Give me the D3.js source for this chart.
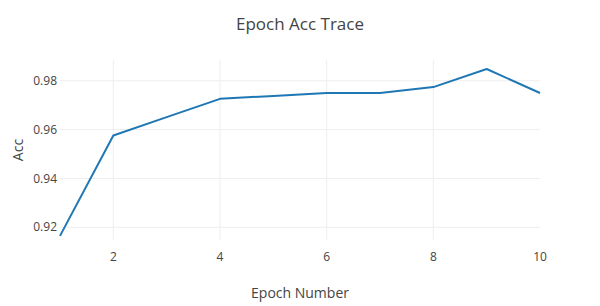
<!DOCTYPE html>
<html lang="en">
  <head>
    <meta charset="utf-8">
    <title>Epoch Acc Trace</title>
    <script src="https://d3js.org/d3.v7.min.js"></script>
    <style>
      body { margin: 0; background: #fff; }
      text { font-family: "Open Sans", sans-serif; fill: #444; }
    </style>
  </head>

  <body>

    <script>

// data

  var epochs = [1, 2, 3, 4, 5, 6, 7, 8, 9, 10];
  var acc = [0.9165, 0.9576, 0.9651, 0.9726, 0.9738, 0.975, 0.975, 0.9774, 0.9848, 0.975];
  var xTicks = [2, 4, 6, 8, 10];
  var yTicks = [0.92, 0.94, 0.96, 0.98];

  var width = 600, height = 306;
  var plotLeft = 60, plotRight = 540, plotTop = 60, plotBottom = 240;

  var svg = d3.select("body")
    .append("svg")
      .attr("width", width)
      .attr("height", height);

  var x = d3.scaleLinear().domain([1, 10]).range([plotLeft, plotRight]);
  var y = d3.scaleLinear().domain([0.9148, 0.9885]).range([plotBottom, plotTop]);

// grid

  svg.selectAll(".xgrid")
    .data(xTicks.filter(d => d < 10))
    .enter().append("line")
      .attr("x1", d => x(d)).attr("x2", d => x(d))
      .attr("y1", plotTop).attr("y2", plotBottom)
      .attr("stroke", "#eee").attr("stroke-width", 1);

  svg.selectAll(".ygrid")
    .data(yTicks)
    .enter().append("line")
      .attr("x1", plotLeft).attr("x2", plotRight)
      .attr("y1", d => y(d)).attr("y2", d => y(d))
      .attr("stroke", "#eee").attr("stroke-width", 1);

// tick labels

  svg.selectAll(".xlab")
    .data(xTicks)
    .enter().append("text")
      .attr("x", d => x(d))
      .attr("y", plotBottom + 21)
      .attr("text-anchor", "middle")
      .style("font-size", "12px")
      .text(d => d);

  svg.selectAll(".ylab")
    .data(yTicks)
    .enter().append("text")
      .attr("x", plotLeft - 3)
      .attr("y", d => y(d))
      .attr("dy", "0.35em")
      .attr("text-anchor", "end")
      .style("font-size", "12px")
      .text(d => d3.format(".2f")(d));

// line

  var line = d3.line()
      .x((d, i) => x(epochs[i]))
      .y(d => y(d));

  svg.append("path")
      .datum(acc)
      .attr("d", line)
      .attr("fill", "none")
      .attr("stroke", "#1f77b4")
      .attr("stroke-width", 2)
      .attr("stroke-linejoin", "round");

// titles

  svg.append("text")
      .attr("x", 300).attr("y", 30)
      .attr("text-anchor", "middle")
      .style("font-size", "17px")
      .text("Epoch Acc Trace");

  svg.append("text")
      .attr("x", 300).attr("y", 298)
      .attr("text-anchor", "middle")
      .style("font-size", "14px")
      .text("Epoch Number");

  svg.append("text")
      .attr("transform", "translate(23,150) rotate(-90)")
      .attr("text-anchor", "middle")
      .style("font-size", "14px")
      .text("Acc");

    </script>

  </body>

</html>
